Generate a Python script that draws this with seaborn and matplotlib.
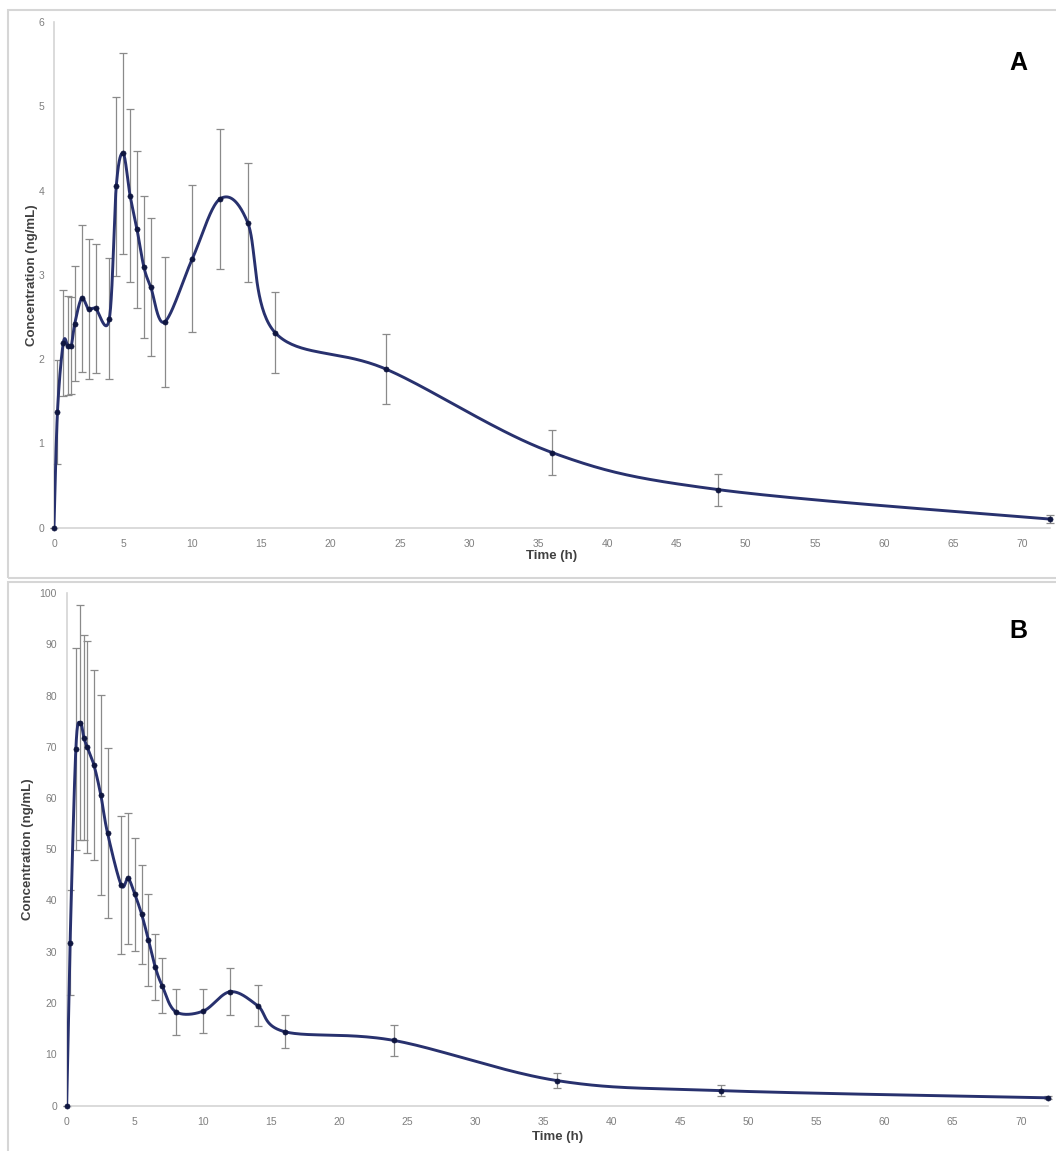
import numpy as np
import pandas as pd
import seaborn as sns
import matplotlib.pyplot as plt
from matplotlib.patches import Rectangle

# sampling times (h), shared by both panels
time_h = [0, 0.25, 0.67, 1, 1.25, 1.5, 2, 2.5, 3, 4, 4.5, 5, 5.5, 6, 6.5, 7,
          8, 10, 12, 14, 16, 24, 36, 48, 72]

# panel A - mean concentration (ng/mL) and SD
conc_a = [0, 1.37, 2.19, 2.16, 2.16, 2.42, 2.72, 2.59, 2.60, 2.48, 4.05, 4.44,
          3.94, 3.54, 3.09, 2.85, 2.44, 3.19, 3.90, 3.62, 2.31, 1.88, 0.89,
          0.45, 0.10]
sd_a = [0, 0.62, 0.63, 0.59, 0.58, 0.68, 0.87, 0.83, 0.77, 0.72, 1.06, 1.19,
        1.03, 0.93, 0.84, 0.82, 0.77, 0.87, 0.83, 0.71, 0.48, 0.42, 0.27,
        0.19, 0.05]

# panel B - mean concentration (ng/mL) and SD
conc_b = [0, 31.8, 69.5, 74.7, 71.8, 70.0, 66.4, 60.6, 53.1, 43.0, 44.3, 41.2,
          37.3, 32.3, 27.0, 23.4, 18.3, 18.4, 22.2, 19.5, 14.4, 12.7, 4.85,
          2.9, 1.5]
sd_b = [0, 10.3, 19.7, 22.9, 20.0, 20.7, 18.5, 19.5, 16.6, 13.4, 12.8, 11.0,
        9.6, 9.0, 6.4, 5.4, 4.5, 4.3, 4.6, 4.0, 3.2, 3.0, 1.4, 1.05, 0.3]

x_ticks = list(range(0, 75, 5))
y_ticks_a = [0, 1, 2, 3, 4, 5, 6]
y_ticks_b = list(range(0, 110, 10))

LINE = "#28316e"
DOT = "#0f1640"
ERR = "#8a8a8a"
SPINE = "#d4d4d4"


def smooth_curve(x, y, n=40):
    # Excel-like smoothed line: cubic Bezier through the points (Catmull-Rom, 1/6)
    pts = np.column_stack([x, y]).astype(float)
    P = np.vstack([pts[0], pts, pts[-1]])
    t = np.linspace(0, 1, n)[:, None]
    out = []
    for i in range(len(pts) - 1):
        p0, p1, p2, p3 = P[i], P[i + 1], P[i + 2], P[i + 3]
        c1 = p1 + (p2 - p0) / 6
        c2 = p2 - (p3 - p1) / 6
        seg = ((1 - t) ** 3) * p1 + 3 * ((1 - t) ** 2) * t * c1 \
            + 3 * (1 - t) * (t ** 2) * c2 + (t ** 3) * p2
        out.append(seg if i == 0 else seg[1:])
    out = np.vstack(out)
    return pd.DataFrame({"x": out[:, 0], "y": out[:, 1]})


sns.set_theme(style="white")
plt.rcParams["font.family"] = ["Liberation Sans", "DejaVu Sans"]

fig = plt.figure(figsize=(10.56, 11.51), dpi=100)

# chart-area frames
fig.add_artist(Rectangle((8 / 1056, 1 - 578 / 1151), 1.1, 568 / 1151,
                         transform=fig.transFigure, fill=False,
                         edgecolor="#d6d6d6", linewidth=1.5))
fig.add_artist(Rectangle((8 / 1056, -0.05), 1.1, 0.05 + 1 - 582 / 1151,
                         transform=fig.transFigure, fill=False,
                         edgecolor="#d6d6d6", linewidth=1.5))

ax_a = fig.add_axes([54 / 1056, 1 - 527.5 / 1151, 996 / 1056, 505.5 / 1151])
ax_b = fig.add_axes([66.7 / 1056, 1 - 1105.5 / 1151, 981.3 / 1056, 512.5 / 1151])

panels = [
    (ax_a, conc_a, sd_a, y_ticks_a, "A", 63, -0.016, 1.0),
    (ax_b, conc_b, sd_b, y_ticks_b, "B", 631, -0.033, 3.0),
]

for ax, conc, sd, yt, letter, ly, ylab_x, xlab_pad in panels:
    ax.errorbar(time_h, conc, yerr=sd, fmt="none", ecolor=ERR,
                elinewidth=0.9, capsize=2.6, capthick=0.9, zorder=2,
                clip_on=False)
    sns.lineplot(data=smooth_curve(time_h, conc), x="x", y="y", sort=False,
                 estimator=None, color=LINE, linewidth=2.1, ax=ax, zorder=3)
    sns.scatterplot(x=time_h, y=conc, color=DOT, s=14, edgecolor=DOT,
                    linewidth=0.4, ax=ax, zorder=4, clip_on=False)

    ax.set_xlim(0, 72)
    ax.set_ylim(yt[0], yt[-1])
    ax.set_xticks(x_ticks)
    ax.set_yticks(yt)
    ax.tick_params(axis="both", length=0, labelsize=7.5, labelcolor="#7f7f7f")
    ax.tick_params(axis="x", pad=8)
    ax.tick_params(axis="y", pad=7)

    sns.despine(ax=ax)
    for side in ["left", "bottom"]:
        ax.spines[side].set_color(SPINE)
        ax.spines[side].set_linewidth(1.2)

    ax.set_xlabel("Time (h)", fontsize=9.5, fontweight="bold", color="#404040",
                  labelpad=xlab_pad)
    ax.set_ylabel("Concentration (ng/mL)", fontsize=9.5, fontweight="bold",
                  color="#404040")
    ax.yaxis.set_label_coords(ylab_x, 0.5)

    fig.text(1018 / 1056, 1 - ly / 1151, letter, fontsize=18,
             fontweight="bold", color="black", ha="center", va="center")

fig.savefig("out.png", dpi=100)
